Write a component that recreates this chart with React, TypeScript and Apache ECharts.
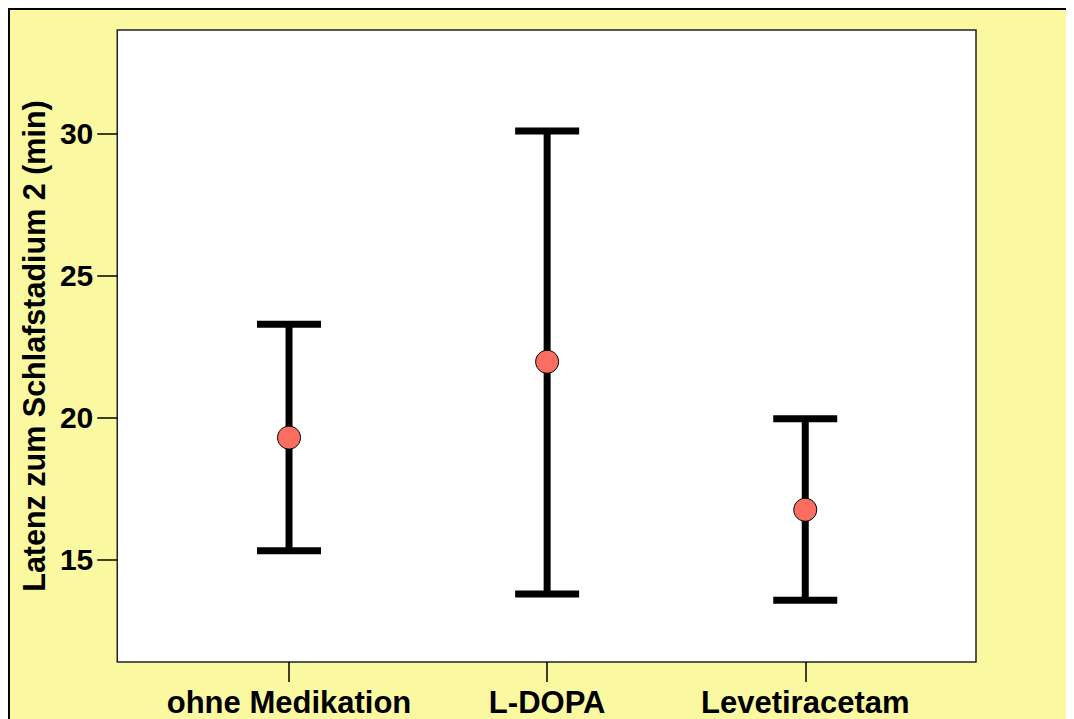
import React, { useEffect, useRef } from "react";
import * as echarts from "echarts";

const categories = ["ohne Medikation", "L-DOPA", "Levetiracetam"];
const means = [19.3, 21.97, 16.76];
const lowerBounds = [15.32, 13.79, 13.57];
const upperBounds = [23.29, 30.09, 19.96];
const yTicks = [15, 20, 25, 30];
const yTitle = "Latenz zum Schlafstadium 2 (min)";

const FONT = "'Liberation Sans', Arial, sans-serif";

export default function App() {
  const ref = useRef<HTMLDivElement>(null);
  useEffect(() => {
    if (!ref.current) return;
    const chart = echarts.init(ref.current, null, { renderer: "svg" });
    const errData = categories.map((_, i) => [i, lowerBounds[i], upperBounds[i]]);
    const meanData = categories.map((_, i) => [i, means[i]]);
    chart.setOption({
      animation: false,
      backgroundColor: "#FAF8A0",
      grid: {
        left: 106,
        top: 20,
        width: 860,
        height: 632,
        show: true,
        backgroundColor: "#ffffff",
        borderColor: "#222222",
        borderWidth: 1.5,
      },
      xAxis: {
        type: "value",
        min: -0.6654,
        max: 2.6615,
        splitLine: { show: false },
        axisLine: { show: false, onZero: false },
        axisTick: {
          show: true,
          customValues: [0, 1, 2],
          length: 20,
          lineStyle: { color: "#000", width: 1.5 },
        },
        axisLabel: {
          customValues: [0, 1, 2],
          formatter: (v: number) => categories[Math.round(v)] ?? "",
          margin: 25,
          color: "#000",
          fontFamily: FONT,
          fontWeight: "bold",
          fontSize: 31,
        },
      },
      yAxis: {
        type: "value",
        min: 11.4,
        max: 33.65,
        splitLine: { show: false },
        axisLine: { show: false, onZero: false },
        axisTick: {
          show: true,
          customValues: yTicks,
          length: 20,
          lineStyle: { color: "#000", width: 1.5 },
        },
        axisLabel: {
          customValues: yTicks,
          margin: 24,
          color: "#000",
          fontFamily: FONT,
          fontWeight: "bold",
          fontSize: 30,
        },
        name: yTitle,
        nameLocation: "middle",
        nameGap: 64,
        nameTextStyle: {
          color: "#000",
          fontFamily: FONT,
          fontWeight: "bold",
          fontSize: 30.5,
        },
      },
      series: [
        {
          type: "custom",
          data: errData,
          renderItem: (params: any, api: any) => {
            const x = api.value(0);
            const lo = api.coord([x, api.value(1)]);
            const hi = api.coord([x, api.value(2)]);
            const half = 32;
            const style = { stroke: "#000", lineWidth: 7, lineCap: "butt" };
            return {
              type: "group",
              children: [
                { type: "line", shape: { x1: lo[0], y1: lo[1], x2: hi[0], y2: hi[1] }, style },
                { type: "line", shape: { x1: hi[0] - half, y1: hi[1], x2: hi[0] + half, y2: hi[1] }, style },
                { type: "line", shape: { x1: lo[0] - half, y1: lo[1], x2: lo[0] + half, y2: lo[1] }, style },
              ],
            };
          },
          z: 2,
        },
        {
          type: "scatter",
          data: meanData,
          symbol: "circle",
          symbolSize: 23,
          itemStyle: { color: "#FA6E60", borderColor: "#000", borderWidth: 1, opacity: 1 },
          z: 3,
        },
      ],
    });
    return () => chart.dispose();
  }, []);
  return (
    <div
      style={{
        borderTop: "2px solid #000",
        borderLeft: "2px solid #000",
        width: 1064,
        height: 709,
        overflow: "hidden",
      }}
    >
      <div ref={ref} style={{ width: 1064, height: 709 }} />
    </div>
  );
}
